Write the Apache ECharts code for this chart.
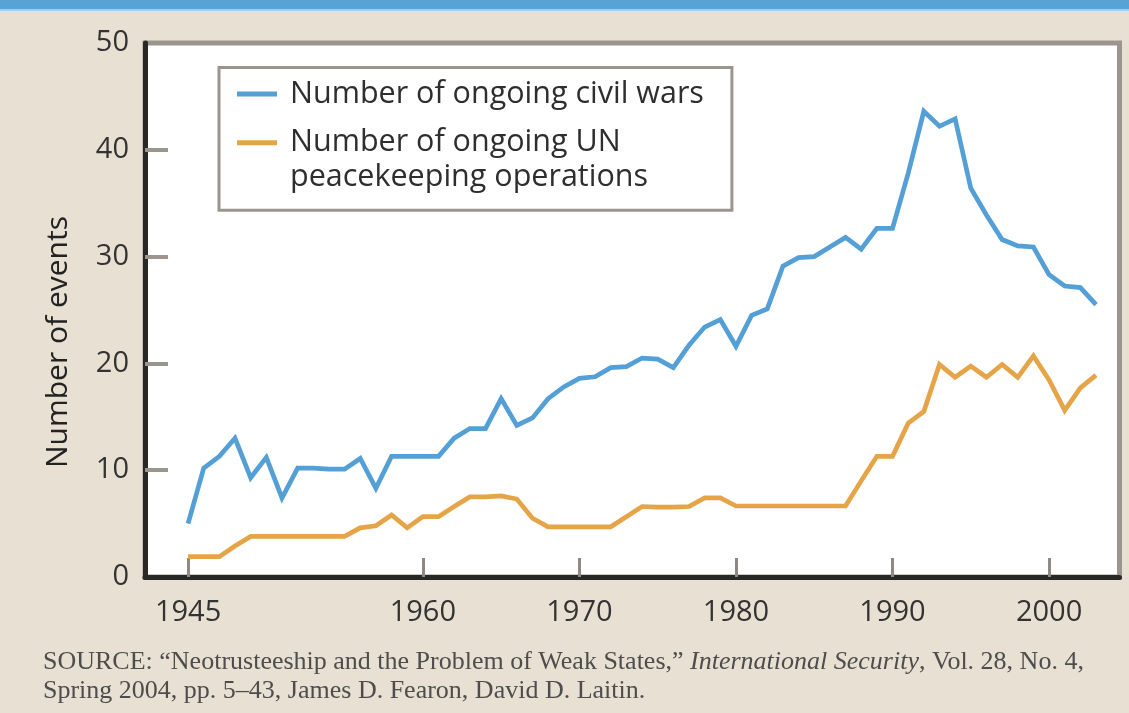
<!DOCTYPE html>
<html>
<head>
<meta charset="utf-8">
<script src="https://cdn.jsdelivr.net/npm/echarts@6/dist/echarts.min.js"></script>
<style>
  html, body { margin: 0; padding: 0; background: #e8e0d2; }
  #chart { width: 1129px; height: 713px; }
</style>
</head>
<body>
<div id="chart"></div>
<script>
// ---- data ----
const years = [1945, 1946, 1947, 1948, 1949, 1950, 1951, 1952, 1953, 1954,
  1955, 1956, 1957, 1958, 1959, 1960, 1961, 1962, 1963, 1964,
  1965, 1966, 1967, 1968, 1969, 1970, 1971, 1972, 1973, 1974,
  1975, 1976, 1977, 1978, 1979, 1980, 1981, 1982, 1983, 1984,
  1985, 1986, 1987, 1988, 1989, 1990, 1991, 1992, 1993, 1994,
  1995, 1996, 1997, 1998, 1999, 2000, 2001, 2002, 2003];

const civilWars = [5.0, 10.2, 11.3, 13.0, 9.3, 11.2, 7.4, 10.2, 10.2, 10.1,
  10.1, 11.1, 8.3, 11.3, 11.3, 11.3, 11.3, 13.0, 13.9, 13.9,
  16.7, 14.2, 14.9, 16.7, 17.8, 18.6, 18.75, 19.6, 19.7, 20.5,
  20.4, 19.6, 21.7, 23.4, 24.1, 21.6, 24.5, 25.1, 29.1, 29.9,
  30.0, 30.9, 31.8, 30.7, 32.65, 32.65, 37.8, 43.6, 42.2, 42.9,
  36.4, 33.9, 31.6, 31.0, 30.9, 28.3, 27.25, 27.1, 25.5];

const unPKO = [1.9, 1.9, 1.9, 2.9, 3.8, 3.8, 3.8, 3.8, 3.8, 3.8,
  3.8, 4.6, 4.8, 5.8, 4.6, 5.65, 5.65, 6.6, 7.5, 7.5,
  7.6, 7.3, 5.5, 4.7, 4.7, 4.7, 4.7, 4.7, 5.65, 6.6,
  6.55, 6.55, 6.6, 7.4, 7.4, 6.65, 6.65, 6.65, 6.65, 6.65,
  6.65, 6.65, 6.65, 9.0, 11.3, 11.3, 14.4, 15.5, 19.9, 18.7,
  19.75, 18.7, 19.9, 18.7, 20.7, 18.45, 15.6, 17.7, 18.9];

const xTickYears = [1945, 1960, 1970, 1980, 1990, 2000];
const yTickValues = [10, 20, 30, 40];

const civilName = 'Number of ongoing civil wars';
const pkoName = 'Number of ongoing UN\npeacekeeping operations';
const yTitle = 'Number of events';
const source1a = 'SOURCE: \u201CNeotrusteeship and the Problem of Weak States,\u201D ';
const source1b = 'International Security';
const source1c = ', Vol. 28, No. 4,';
const source2 = 'Spring 2004, pp. 5\u201343, James D. Fearon, David D. Laitin.';

// ---- chart ----
const SANS = '"Open Sans", "Noto Sans", sans-serif';
const SERIF = '"Liberation Serif", "DejaVu Serif", serif';
const civilPts = years.map((y, i) => [y, civilWars[i]]);
const pkoPts = years.map((y, i) => [y, unPKO[i]]);

const chart = echarts.init(document.getElementById('chart'), null, { renderer: 'canvas' });
chart.setOption({
  animation: false,
  backgroundColor: '#e8e0d2',
  grid: {
    left: 145, right: 9.5, top: 43, bottom: 136,
    show: true, backgroundColor: '#ffffff',
    borderColor: '#9b958e', borderWidth: 5
  },
  legend: {
    orient: 'vertical', left: 219, top: 67.5,
    padding: [9, 28, 15, 18],
    itemWidth: 40, itemHeight: 5, itemGap: -21.3,
    icon: 'rect',
    backgroundColor: '#ffffff', borderColor: '#9b958e', borderWidth: 3,
    textStyle: { fontFamily: SANS, fontSize: 30.5, color: '#2e2e2e', lineHeight: 35, padding: [0, 0, 0, 8] },
    formatter: name => (name === pkoName ? '\n' + name : name),
    data: [ civilName, pkoName ]
  },
  xAxis: {
    type: 'value', min: 1942.25, max: 2004.5,
    axisLine: { show: true, onZero: false, lineStyle: { color: '#2a2826', width: 5 } },
    axisTick: { show: true, customValues: xTickYears, inside: true, length: 19,
      lineStyle: { color: '#8e8984', width: 3 } },
    axisLabel: { customValues: xTickYears, fontFamily: SANS, fontSize: 29, color: '#333',
      margin: 21, formatter: v => String(v) },
    splitLine: { show: false }
  },
  yAxis: {
    type: 'value', min: 0, max: 50, interval: 10,
    name: yTitle, nameLocation: 'middle', nameGap: 72, nameRotate: 90,
    nameTextStyle: { fontFamily: SANS, fontSize: 30, color: '#222', padding: [0, 64, 0, 0] },
    axisLine: { show: true, lineStyle: { color: '#2a2826', width: 5 } },
    axisTick: { show: true, customValues: yTickValues, inside: true, length: 23,
      lineStyle: { color: '#9b958e', width: 4 } },
    axisLabel: { fontFamily: SANS, fontSize: 29, color: '#333', margin: 16 },
    splitLine: { show: false }
  },
  series: [
    { name: civilName, type: 'line', data: civilPts, showSymbol: false, symbol: 'none',
      lineStyle: { color: '#54a0d6', width: 4.7, join: 'miter' }, itemStyle: { color: '#54a0d6' } },
    { name: pkoName, type: 'line', data: pkoPts, showSymbol: false, symbol: 'none',
      lineStyle: { color: '#e6a448', width: 4.7, join: 'miter' }, itemStyle: { color: '#e6a448' } }
  ],
  graphic: [
    { type: 'rect', left: 0, top: 0, shape: { width: 1129, height: 9 }, style: { fill: '#58a2d6' }, silent: true },
    { type: 'rect', left: 0, top: 9, shape: { width: 1129, height: 2 }, style: { fill: '#aacde6' }, silent: true },
    { type: 'text', left: 43, top: 649, silent: true,
      style: {
        text: '{n|' + source1a + '}{i|' + source1b + '}{n|' + source1c + '}',
        rich: {
          n: { fontFamily: SERIF, fontSize: 26, fill: '#4d4d4d' },
          i: { fontFamily: SERIF, fontSize: 26, fontStyle: 'italic', fill: '#4d4d4d' }
        }
      } },
    { type: 'text', left: 43, top: 678, silent: true,
      style: { text: source2, fontFamily: SERIF, fontSize: 26, fill: '#4d4d4d' } }
  ]
});
</script>
</body>
</html>
